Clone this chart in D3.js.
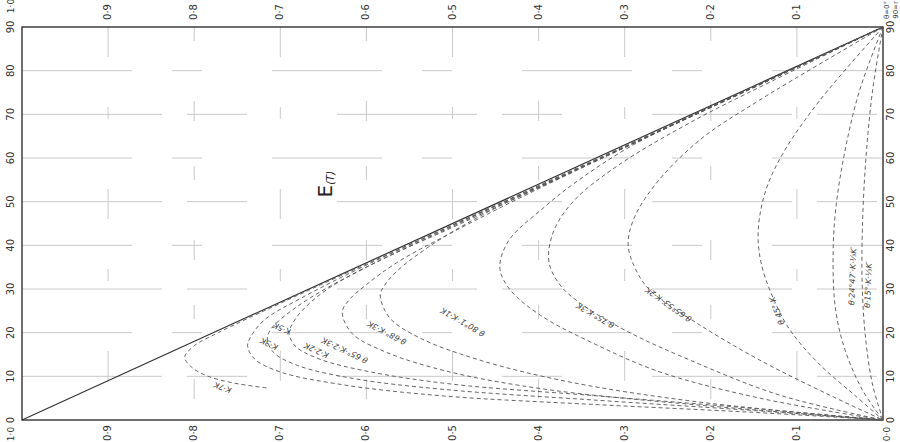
<!DOCTYPE html>
<html>
<head>
<meta charset="utf-8">
<script src="https://cdn.jsdelivr.net/npm/d3@7"></script>
<style>
  html, body { margin: 0; padding: 0; background: #fff; }
  svg { display: block; }
</style>
</head>
<body>
<div id="chart"></div>
<script>
// angle axis (degrees) runs bottom -> top, E axis runs 1.0 (left) -> 0.0 (right)
const angleTicks = [0, 10, 20, 30, 40, 50, 60, 70, 80, 90];
const valueTicks = [1.0, 0.9, 0.8, 0.7, 0.6, 0.5, 0.4, 0.3, 0.2, 0.1, 0.0];

// each curve: [angle, E] points
const curveK7 = [[90,0],[60,.330],[40,.552],[27,.697],[20,.772],[17,.800],[14.4,.811],[12.1,.803],[10.1,.785],[8.5,.755],[7.3,.714]];
const curveK5 = [[90,0],[60,.328],[45,.495],[35,.605],[28,.675],[23,.718],[19.5,.733],[17,.738],[14,.730],[11,.700],[8,.625],[5.5,.51],[3.5,.33],[1.8,.155],[0,0]];
const curveK3 = [[90,0],[60,.327],[45,.493],[35,.600],[28,.665],[23,.700],[20.5,.712],[18.5,.715],[15.5,.708],[12.5,.680],[9.5,.615],[7,.51],[4.5,.33],[2.3,.16],[0,0]];
const curveK22 = [[90,0],[60,.326],[45,.490],[36,.590],[30,.645],[25,.675],[22,.686],[20,.690],[17,.683],[14,.655],[11,.595],[8.2,.50],[5.5,.33],[2.8,.16],[0,0]];
const curve65 = [[90,0],[65,.272],[52,.41],[43,.50],[36,.565],[31,.60],[27.5,.62],[24.7,.628],[19.9,.617],[15.6,.578],[11,.503],[6.9,.387],[3.4,.213],[0,0]];
const curve68 = [[90,0],[68,.24],[56,.37],[47,.465],[40,.525],[34,.565],[30.5,.58],[28.6,.584],[23.4,.573],[18.8,.538],[13.7,.468],[8.7,.364],[4.1,.213],[0,0]];
const curve80 = [[90,0],[75,.162],[63,.29],[54,.36],[48.8,.393],[41,.435],[34.8,.445],[29.8,.433],[24,.398],[17.9,.340],[11,.259],[5,.143],[0,0]];
const curve75 = [[90,0],[78,.125],[68,.225],[58,.31],[50,.36],[43,.383],[36.2,.388],[30.9,.375],[26.8,.352],[20.6,.30],[13.7,.224],[5.7,.12],[0,0]];
const curve6553 = [[90,0],[73.3,.143],[64.1,.213],[53.8,.265],[45.8,.290],[40.1,.296],[34.8,.288],[29.8,.271],[21.8,.213],[13.7,.143],[5.7,.062],[0,0]];
const curve45 = [[90,0],[73.3,.073],[61.8,.114],[53.8,.134],[46.9,.143],[41.2,.145],[35.5,.141],[28.6,.129],[20.6,.108],[12.6,.073],[5.7,.033],[0,0]];
const curve2447 = [[90,0],[75.6,.027],[61.8,.044],[48.1,.055],[36.6,.058],[25.2,.055],[16,.044],[6.9,.024],[0,0]];
const curve15 = [[90,0],[75.6,.012],[59.5,.020],[43.5,.024],[29.8,.024],[18.3,.020],[8,.012],[0,0]];

const curves = [curveK7, curveK5, curveK3, curveK22, curve65, curve68, curve80, curve75, curve6553, curve45, curve2447, curve15];

// curve labels: text, anchor point [angle, E], rotation
const curveLabels = ["K·7K", "K·5K", "K·3K", "K·2·2K", "θ 65°·K·2·3K", "θ·68°·K·3K", "θ 80°1′·K·1K", "θ·75°·K·3K", "θ·65°53′·K·2K", "θ 45°·K", "θ·24°47′·K·⅓K′", "θ·15°·K·⅓K′"];
const labelAt = [[7.5,.767],[21,.698],[17.5,.713],[16,.658],[16,.625],[20,.576],[22.5,.488],[24,.334],[26.5,.249],[25,.123],[33,.035],[31,.017]];
const labelRot = [200, 205, 205, 205, 205, 207, 210, 210, 215, 250, 272, 272];

const width = 900, height = 442;
const x = d3.scaleLinear().domain([1, 0]).range([22, 883]);
const y = d3.scaleLinear().domain([0, 90]).range([420, 27]);

const svg = d3.select('#chart').append('svg')
  .attr('width', width)
  .attr('height', height)
  .attr('viewBox', [0, 0, width, height])
  .style('font-family', '"DejaVu Sans", sans-serif');

// faint, broken grid like the scanned sheet
const grid = svg.append('g').attr('stroke', '#c9c9c9').attr('stroke-width', 1);
grid.selectAll('line.h').data(angleTicks.slice(1, -1)).join('line')
  .attr('class', 'h')
  .attr('x1', x(1)).attr('x2', x(0))
  .attr('y1', d => y(d)).attr('y2', d => y(d))
  .attr('stroke-dasharray', (d, i) => i % 2 ? '110 40 30 70' : '140 25 60 90');
grid.selectAll('line.v').data(valueTicks.slice(1, -1)).join('line')
  .attr('class', 'v')
  .attr('x1', d => x(d)).attr('x2', d => x(d))
  .attr('y1', y(90)).attr('y2', y(0))
  .attr('stroke-dasharray', (d, i) => i % 2 ? '14 60 20 45' : '30 50 12 70');

// frame
svg.append('rect')
  .attr('x', x(1)).attr('y', y(90))
  .attr('width', x(0) - x(1)).attr('height', y(0) - y(90))
  .attr('fill', 'none').attr('stroke', '#222').attr('stroke-width', 1.3);

// solid diagonal E = 1 - angle/90
svg.append('line')
  .attr('x1', x(1)).attr('y1', y(0))
  .attr('x2', x(0)).attr('y2', y(90))
  .attr('stroke', '#333').attr('stroke-width', 1.2);

const line = d3.line()
  .x(d => x(d[1]))
  .y(d => y(d[0]))
  .curve(d3.curveCatmullRom.alpha(0.5));

svg.append('g').selectAll('path').data(curves).join('path')
  .attr('d', line)
  .attr('fill', 'none')
  .attr('stroke', '#555')
  .attr('stroke-width', 0.9)
  .attr('stroke-dasharray', '4 3');

svg.append('g').selectAll('text').data(curveLabels).join('text')
  .attr('transform', (d, i) => `translate(${x(labelAt[i][1])},${y(labelAt[i][0])}) rotate(${labelRot[i]})`)
  .attr('text-anchor', 'middle')
  .attr('dominant-baseline', 'middle')
  .attr('font-size', 8)
  .attr('font-style', 'italic')
  .attr('fill', '#444')
  .text(d => d);

// tick labels, all turned like the scan
const tickFont = 10;
function rotText(g, px, py, txt, size) {
  g.append('text')
    .attr('transform', `translate(${px},${py}) rotate(-90)`)
    .attr('text-anchor', 'middle')
    .attr('dominant-baseline', 'middle')
    .attr('font-size', size || tickFont)
    .attr('fill', '#333')
    .text(txt);
}
const fmt = v => d3.format('.1f')(v).replace('.', '·');
const labels = svg.append('g');
angleTicks.forEach(a => {
  rotText(labels, 11, y(a), a);
  rotText(labels, 891, y(a), a);
});
valueTicks.slice(1, -1).forEach(v => {
  rotText(labels, x(v), 12, fmt(v));
  rotText(labels, x(v), 433, fmt(v));
});
rotText(labels, 11, 6, '1·0', 9);
rotText(labels, 11, 434, '1·0', 9);
rotText(labels, 887, 434, '0·0', 9);
rotText(labels, 887, 10, 'θ=0°', 7);
rotText(labels, 896, 10, '90=r', 7);

// E(T) label
const eLab = svg.append('text')
  .attr('transform', `translate(${x(0.64)},${y(54)}) rotate(-90)`)
  .attr('text-anchor', 'middle')
  .attr('fill', '#222');
eLab.append('tspan').attr('font-size', 20).text('E');
eLab.append('tspan').attr('font-size', 10).attr('font-style', 'italic').attr('dy', 2).text('(T)');
</script>
</body>
</html>
